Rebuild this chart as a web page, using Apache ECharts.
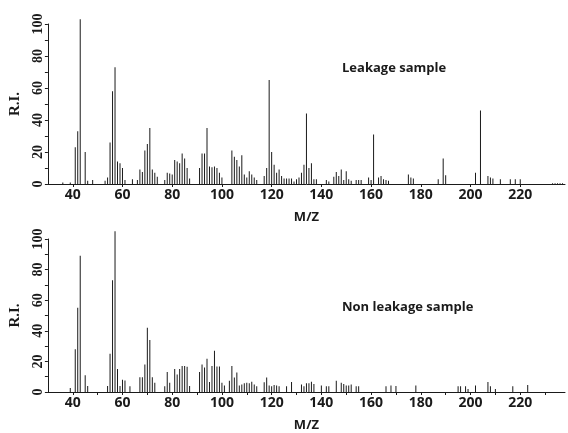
<!DOCTYPE html>
<html>
<head>
<meta charset="utf-8">
<script src="https://cdn.jsdelivr.net/npm/echarts@6/dist/echarts.min.js"></script>
<style>
html,body{margin:0;padding:0;background:#fff;}
#chart{width:568px;height:433px;}
</style>
</head>
<body>
<div id="chart"></div>
<script>
// ---- data ----
var xTickLabels = [40, 60, 80, 100, 120, 140, 160, 180, 200, 220];
var yTickLabels = [0, 20, 40, 60, 80, 100];

var leakMz = [36, 39, 41, 42, 43, 45, 46, 48, 53, 54, 55, 56, 57, 58, 59, 60, 61, 64, 66, 67, 68, 69, 70, 71, 72, 73, 74, 77, 78, 79, 80, 81, 82, 83, 84, 85, 86, 87, 91, 92, 93, 94, 95, 96, 97, 98, 99, 100, 104, 105, 106, 107, 108, 109, 110, 111, 112, 113, 114, 117, 118, 119, 120, 121, 122, 123, 124, 125, 126, 127, 128, 129, 130, 131, 132, 133, 134, 135, 136, 137, 138, 142, 143, 145, 146, 147, 148, 149, 150, 151, 152, 154, 155, 156, 159, 160, 161, 163, 164, 165, 166, 167, 175, 176, 177, 187, 189, 190, 202, 204, 207, 208, 209, 212, 216, 218, 220, 233, 234, 235, 236, 237];
var leakRI = [1, 1, 23, 33, 103, 20, 2, 2.5, 2, 4, 26, 58, 73, 14, 13, 10, 2.5, 3, 2.5, 9, 7.5, 21, 25, 35, 9, 7, 4.5, 2.5, 7, 6.5, 6, 15, 14, 13, 19, 16, 10, 3.5, 10, 19, 19, 35, 11, 10.5, 11, 10, 7, 4, 21, 17, 15, 11, 18, 6, 4, 8, 6, 4, 2.5, 5, 10, 65, 20, 12, 7, 9, 5, 3.5, 3.5, 3.5, 3.5, 1.5, 3, 4, 7, 12, 44, 10, 13, 3, 3, 2.5, 1.5, 4.5, 7.5, 5, 9, 2.5, 8, 3, 2, 2.5, 2.5, 2.5, 4, 2.5, 31, 4, 5, 3, 2.5, 2, 6, 4, 3.5, 3, 16, 5.5, 7, 46, 5, 4, 3.5, 3, 3, 3, 3, 0.5, 0.5, 0.5, 0.5, 0.5];

var nonLeakMz = [39, 41, 42, 43, 45, 46, 54, 55, 56, 57, 58, 59, 60, 61, 63, 67, 68, 69, 70, 71, 72, 73, 77, 78, 79, 81, 82, 83, 84, 85, 86, 87, 91, 92, 93, 94, 95, 96, 97, 98, 99, 100, 101, 103, 104, 105, 106, 107, 108, 109, 110, 111, 112, 113, 114, 117, 118, 119, 120, 121, 122, 123, 126, 128, 132, 133, 134, 135, 136, 137, 140, 142, 143, 146, 148, 149, 150, 151, 152, 154, 155, 166, 168, 170, 178, 195, 196, 198, 199, 202, 207, 208, 210, 217, 223];
var nonLeakRI = [2.6, 28, 55, 89, 11, 4, 4, 25, 73, 105, 15, 4, 8, 7.5, 3.7, 9.6, 9.6, 18, 42, 34, 9.6, 6, 3.7, 13, 6, 15, 11.5, 15, 17, 17, 16.5, 4, 13, 18, 16, 21.7, 6.6, 17, 27, 16.6, 16.6, 6, 4.3, 7.4, 17, 9.4, 12.7, 4.3, 4.9, 5.7, 6, 5.7, 6.7, 4.9, 3.7, 6.3, 9.4, 4.3, 3.7, 4.6, 4.3, 3.8, 3.8, 6.6, 4.9, 3.8, 5.7, 5.7, 6.7, 5.3, 4.3, 3.8, 3.8, 7.4, 6, 5.3, 4.3, 4.3, 4.9, 3.7, 3.7, 3.7, 4.3, 4, 4.3, 3.7, 3.7, 3.7, 2, 4.3, 6.6, 3.7, 2, 3.7, 4.5];

var panelTitles = ['Leakage sample', 'Non leakage sample'];
var xName = 'M/Z';
var yName = 'R.I.';

// ---- chart ----
var chart = echarts.init(document.getElementById('chart'), null, {renderer: 'canvas'});
var serif = '"Liberation Serif", "DejaVu Serif", serif';
var sans = '"Open Sans", "DejaVu Sans", sans-serif';
var ink = '#1a1a1a';

function xAxisDef(idx, tickVals) {
  return {
    type: 'value', gridIndex: idx, min: 30, max: 238,
    name: xName, nameLocation: 'middle', nameGap: 27,
    nameTextStyle: {fontFamily: sans, fontWeight: 'bold', fontSize: 13, color: ink},
    axisLine: {show: true, lineStyle: {color: ink, width: 1}},
    axisTick: {show: true, length: 3, inside: false, customValues: tickVals, lineStyle: {color: ink}},
    axisLabel: {customValues: xTickLabels, fontFamily: sans, fontWeight: 'bold', fontSize: 14, color: ink, margin: 4},
    splitLine: {show: false}
  };
}
function yAxisDef(idx) {
  return {
    type: 'value', gridIndex: idx, min: 0, max: 100, interval: 20,
    name: yName, nameLocation: 'middle', nameGap: 19, nameRotate: 90,
    nameTextStyle: {fontFamily: serif, fontWeight: 'bold', fontSize: 15, color: ink},
    axisLine: {show: true, lineStyle: {color: ink, width: 1}},
    axisTick: {show: true, length: 3, lineStyle: {color: ink}},
    minorTick: {show: true, splitNumber: 2, length: 3, lineStyle: {color: ink}},
    axisLabel: {rotate: 90, fontFamily: serif, fontWeight: 'bold', fontSize: 14, color: ink, margin: 3,
      customValues: yTickLabels},
    splitLine: {show: false}
  };
}
function pairs(xs, ys) { return xs.map(function (m, i) { return [m, ys[i]]; }); }

var topTicks = xTickLabels;
var botTicks = [];
for (var t = 40; t <= 230; t += 10) botTicks.push(t);

chart.setOption({
  animation: false,
  backgroundColor: '#fff',
  grid: [
    {left: 43, width: 522, top: 24, height: 160},
    {left: 43, width: 522, top: 239, height: 163}
  ],
  xAxis: [xAxisDef(0, topTicks), xAxisDef(1, botTicks)],
  yAxis: [yAxisDef(0), yAxisDef(1)],
  graphic: [
    {type: 'text', left: 342, top: 62, style: {text: panelTitles[0], font: 'bold 13px ' + sans, fill: ink}},
    {type: 'text', left: 342, top: 301, style: {text: panelTitles[1], font: 'bold 13px ' + sans, fill: ink}}
  ],
  series: [
    {type: 'bar', xAxisIndex: 0, yAxisIndex: 0, data: pairs(leakMz, leakRI), barWidth: 1, clip: false,
      itemStyle: {color: ink}, silent: true},
    {type: 'bar', xAxisIndex: 1, yAxisIndex: 1, data: pairs(nonLeakMz, nonLeakRI), barWidth: 1, clip: false,
      itemStyle: {color: ink}, silent: true}
  ]
});
</script>
</body>
</html>
